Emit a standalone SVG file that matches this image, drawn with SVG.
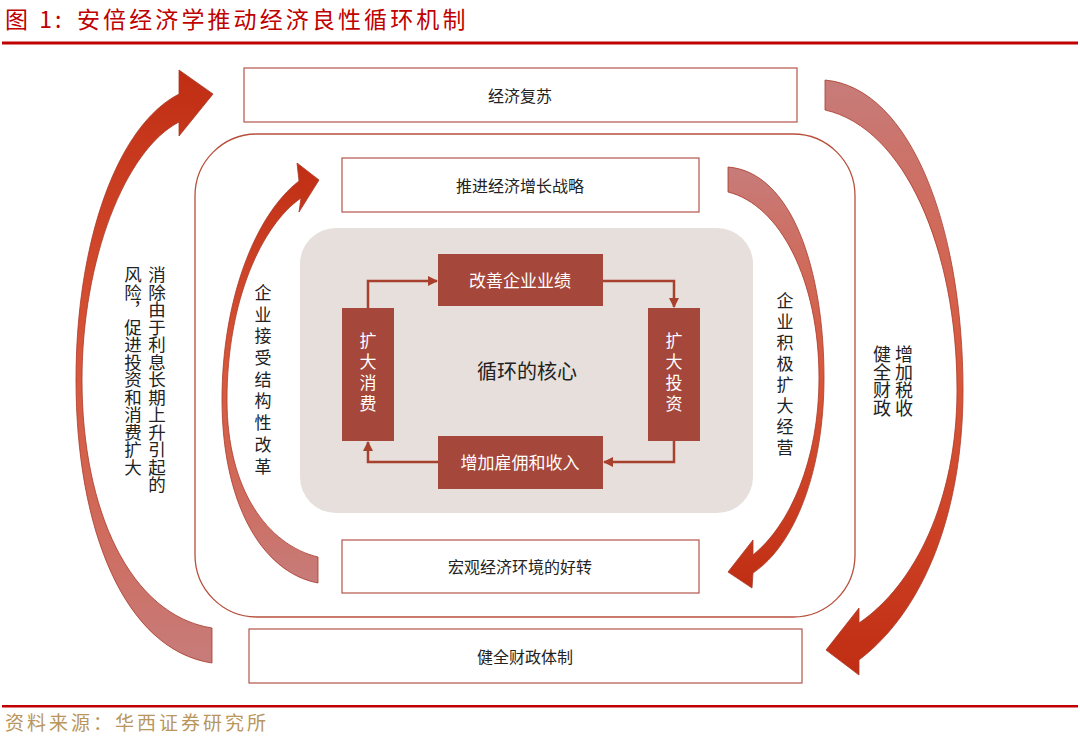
<svg xmlns="http://www.w3.org/2000/svg" width="1080" height="738" viewBox="0 0 1080 738">
<style>
.t{font-family:"Noto Sans CJK SC","Noto Sans",sans-serif;fill:#222}
.box{fill:#fff;stroke:#b4564a;stroke-width:1.2}
.core{fill:#a5473a}
.w{font-family:"Noto Sans CJK SC","Noto Sans",sans-serif;fill:#fff}
.v{writing-mode:vertical-rl}
.con{fill:none;stroke:#a8402e;stroke-width:2.5}
.arr{stroke:#a83a2a;stroke-width:0.8}
.ttl{font-family:"Noto Sans CJK SC",sans-serif;font-size:23px;fill:#c00000}
</style>
<defs>
<linearGradient id="gUp" x1="0" y1="0" x2="0" y2="1">
<stop offset="0" stop-color="#c02d12"/><stop offset="0.5" stop-color="#d9573a"/><stop offset="1" stop-color="#c77c7a"/>
</linearGradient>
<linearGradient id="gDown" x1="0" y1="0" x2="0" y2="1">
<stop offset="0" stop-color="#c77c7a"/><stop offset="0.5" stop-color="#d9573a"/><stop offset="1" stop-color="#c02d12"/>
</linearGradient>
<marker id="ah" markerUnits="userSpaceOnUse" markerWidth="10" markerHeight="10" refX="9" refY="5" orient="auto">
<path d="M0,0 L10,5 L0,10 z" fill="#a8402e"/>
</marker>
</defs>
<rect width="1080" height="738" fill="#fff"/>
<g id="title">
<text class="ttl" x="5" y="28" letter-spacing="3">图 1:</text>
<text class="ttl" x="77" y="28" letter-spacing="3.1">安倍经济学推动经济良性循环机制</text>
<rect x="2" y="41.5" width="1076" height="3" fill="#c00000"/>
</g>
<g id="frame"><rect x="195" y="134" width="660" height="483" rx="62" fill="none" stroke="#b84f3c" stroke-width="1.3"/></g>
<g id="coreBg"><rect x="300" y="228" width="453" height="285" rx="36" fill="#e6dfdb"/></g>
<g id="n1"><rect class="box" x="244" y="68" width="553" height="54"/><text class="t" x="520" y="102" font-size="16" text-anchor="middle">经济复苏</text></g>
<g id="n2"><rect class="box" x="342" y="158" width="357" height="54"/><text class="t" x="520" y="192" font-size="16" text-anchor="middle">推进经济增长战略</text></g>
<g id="n3"><rect class="box" x="342" y="540" width="357" height="53"/><text class="t" x="520" y="573" font-size="16" text-anchor="middle">宏观经济环境的好转</text></g>
<g id="n4"><rect class="box" x="249" y="629" width="553" height="54"/><text class="t" x="525" y="663" font-size="16" text-anchor="middle">健全财政体制</text></g>
<g id="c1"><rect class="core" x="438" y="254" width="165" height="52"/><text class="w" x="520" y="287" font-size="17" text-anchor="middle">改善企业业绩</text></g>
<g id="c2"><rect class="core" x="648" y="308" width="52" height="133"/><text class="w v" x="674" y="332" font-size="17" letter-spacing="4">扩大投资</text></g>
<g id="c3"><rect class="core" x="438" y="436" width="165" height="53"/><text class="w" x="520" y="469" font-size="17" text-anchor="middle">增加雇佣和收入</text></g>
<g id="c4"><rect class="core" x="342" y="308" width="52" height="133"/><text class="w v" x="368" y="332" font-size="17" letter-spacing="4">扩大消费</text></g>
<g id="center"><text class="t" x="527" y="379" font-size="20" text-anchor="middle">循环的核心</text></g>
<g id="connectors">
<path class="con" d="M368 308 V281 H437" marker-end="url(#ah)"/>
<path class="con" d="M603 281 H674 V307" marker-end="url(#ah)"/>
<path class="con" d="M674 441 V462 H604" marker-end="url(#ah)"/>
<path class="con" d="M438 462 H368 V442" marker-end="url(#ah)"/>
<path class="arr" fill="url(#gUp)" d="M212 663 C125 650 76 530 76 380 C76 240 118 125 179 94 L179 70 L213 94 L179 136 L179 122 C125 150 82 260 82 380 C82 510 130 615 212 628 Z"/>
<path class="arr" fill="url(#gDown)" d="M825 80 C912 88 963 230 963 390 C963 510 925 610 859 660 L859 675 L826 650 L859 608 L859 623 C915 585 957 500 957 390 C957 250 905 128 825 110 Z"/>
<path class="arr" fill="url(#gUp)" d="M318 583 C260 572 222 500 222 400 C222 300 255 215 299 181 L297 163 L319 180 L299 212 L301 198 C262 225 227 300 227 400 C227 490 268 545 318 557 Z"/>
<path class="arr" fill="url(#gDown)" d="M728 167 C792 172 824 270 824 378 C824 470 795 545 753 573 L752 588 L728 572 L753 540 L753 555 C790 525 819 460 819 378 C819 280 780 205 728 192 Z"/>
</g>
<g id="labels">
<text class="t v" x="157" y="266" font-size="17.5">消除由于利息长期上升引起的</text>
<text class="t v" x="133" y="266" font-size="17.5">风险，促进投资和消费扩大</text>
<text class="t v" x="263" y="284" font-size="17" letter-spacing="4.7">企业接受结构性改革</text>
<text class="t v" x="785" y="292" font-size="17" letter-spacing="4">企业积极扩大经营</text>
<text class="t v" x="904" y="345" font-size="18">增加税收</text>
<text class="t v" x="882" y="345" font-size="18">健全财政</text>
</g>
<g id="footer">
<rect x="2" y="705" width="1076" height="2.5" fill="#c00000"/>
<text x="5" y="730" font-family="Noto Sans CJK SC,sans-serif" font-size="19" fill="#b8965c" letter-spacing="3">资料来源：华西证券研究所</text>
</g>
</svg>
